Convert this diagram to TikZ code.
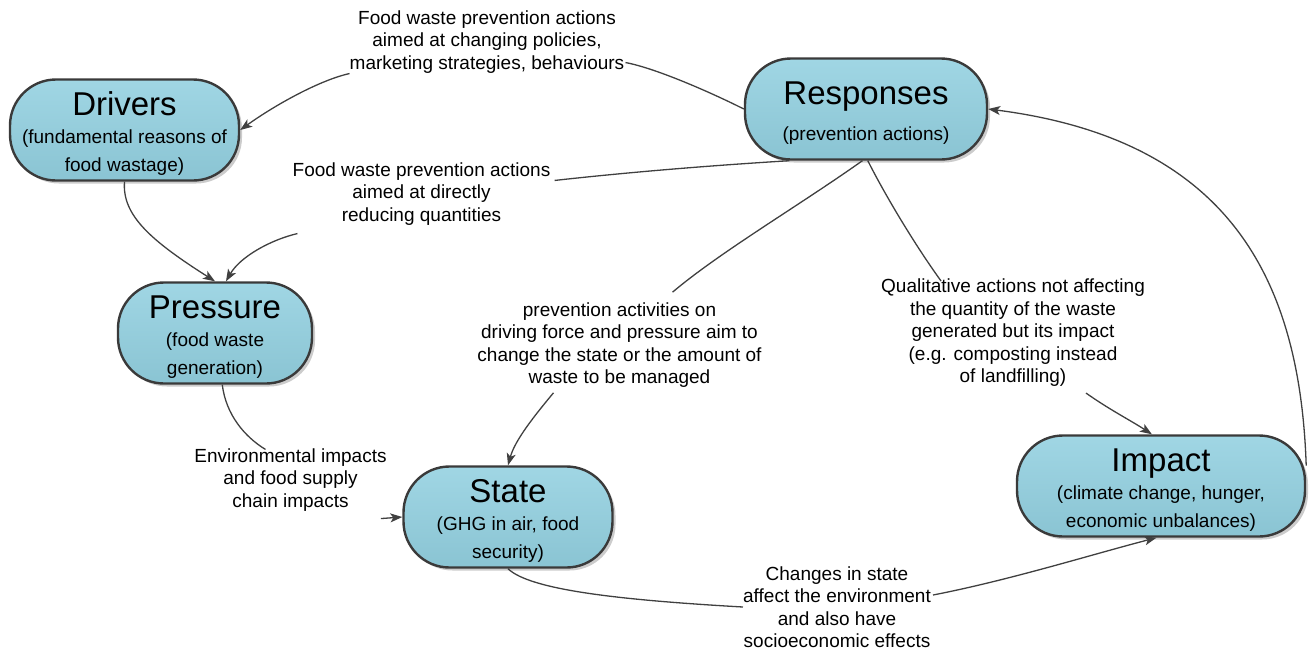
\documentclass[tikz,border=0pt]{standalone}
\usepackage{fontspec}
\setmainfont{Liberation Sans}
\usepackage{tikz}
\usetikzlibrary{arrows.meta,shadows,calc,positioning}

\definecolor{boxtop}{HTML}{A0D6E4}
\definecolor{boxbot}{HTML}{8AC4D3}
\definecolor{boxline}{HTML}{3A3A3A}
\definecolor{linkgray}{HTML}{404040}

\newcommand{\ttl}[1]{{\fontsize{33}{33}\selectfont\rule{0pt}{30pt}#1}}

\begin{document}
\begin{tikzpicture}[
    x=1pt, y=-1pt,
    >={Stealth[length=12pt,width=9pt,inset=3pt]},
    stage/.style={rectangle, rounded corners=46pt, draw=boxline, line width=2.4pt,
        top color=boxtop, bottom color=boxbot, minimum height=101pt, inner sep=0pt,
        align=center, font=\fontsize{19}{28}\selectfont,
        drop shadow={shadow xshift=3pt, shadow yshift=-3pt, fill=black!40, opacity=0.5}},
    note/.style={align=center, inner sep=0pt, font=\fontsize{19}{22.5}\selectfont},
    link/.style={draw=linkgray, line width=1.3pt}
]
\useasboundingbox (0,0) rectangle (1314,654);

% stages
\node[stage, minimum width=229pt] (D) at (124.5,130) {\ttl{Drivers}\\(fundamental reasons of\\food wastage)};
\node[stage, minimum width=242pt] (R) at (866,109) {\ttl{Responses}\\[8pt](prevention actions)};
\node[stage, minimum width=194pt] (P) at (215,333) {\ttl{Pressure}\\(food waste\\generation)};
\node[stage, minimum width=209pt] (S) at (508,517) {\ttl{State}\\(GHG in air, food\\security)};
\node[stage, minimum width=288pt] (I) at (1161,486) {\ttl{Impact}\\(climate change, hunger,\\economic unbalances)};

% labels on the links
\node[note] (n1) at (487,42) {Food waste prevention actions\\aimed at changing policies,\\marketing strategies, behaviours};
\node[note] (n2) at (421.5,194) {Food waste prevention actions\\aimed at directly\\reducing quantities};
\node[note] (n3) at (619.5,345) {prevention activities on\\driving force and pressure aim to\\change the state or the amount of\\waste to be managed};
\node[note] (n4) at (1013,333) {Qualitative actions not affecting\\the quantity of the waste\\generated but its impact\\(e.g. composting instead\\of landfilling)};
\node[note] (n5) at (290.5,480) {Environmental impacts\\and food supply\\chain impacts};
\node[note] (n6) at (837,607) {Changes in state\\affect the environment\\and also have\\socioeconomic effects};

% links
\draw[link] (R.west) .. controls (710,92) and (655,68) .. ($(n1.south east)+(1,-11)$);
\draw[link,->] (n1.south west) .. controls (320,80) and (275,105) .. (D.east);

\draw[link] (R.214) .. controls (720,165) and (640,171) .. ($(n2.north east)+(4,18)$);
\draw[link,->] ($(n2.south west)+(5,8)$) .. controls (270,240) and (240,257) .. (P.78);

\draw[link,->] (D.south) .. controls (122,215) and (150,240) .. (P.north);

\draw[link] (R.266) .. controls (800,205) and (720,252) .. ($(n3.north)+(53,-10)$);
\draw[link,->] ($(n3.south)+(-66,5)$) .. controls (535,415) and (515,440) .. (S.north);

\draw[link] (R.272) .. controls (885,195) and (915,245) .. ($(n4.north)+(-72,2)$);
\draw[link,->] ($(n4.south)+(73,6)$) .. controls (1110,410) and (1130,420) .. (I.100);

\draw[link] (P.278) .. controls (226,415) and (245,437) .. ($(n5.north)+(-25,1)$);
\draw[link,->] ($(n5.south east)+(-6,7)$) -- (S.west);

\draw[link] (S.south) .. controls (530,590) and (620,600) .. (n6.west);
\draw[link,->] ($(n6.east)+(2,-12)$) .. controls (1010,580) and (1090,555) .. (I.265);

\draw[link,->] (I.8) .. controls (1300,280) and (1230,140) .. (R.east);
\end{tikzpicture}
\end{document}
